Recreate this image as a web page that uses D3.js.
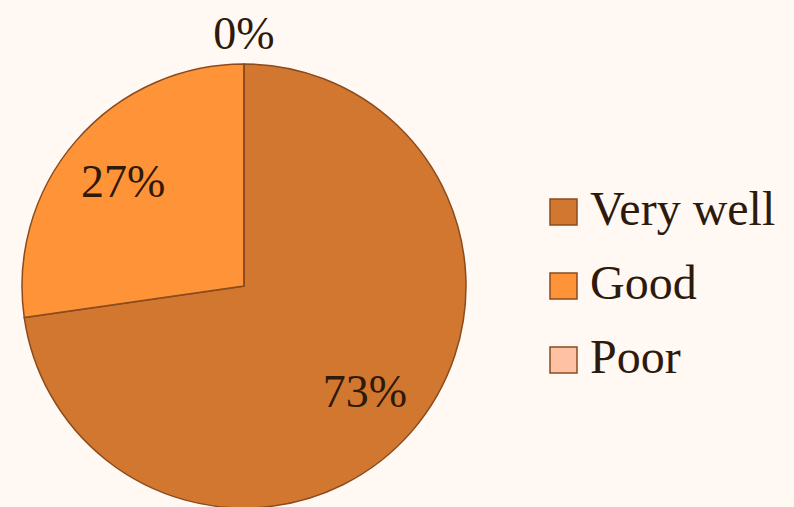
<!DOCTYPE html>
<html>
<head>
<meta charset="utf-8">
<script src="https://cdn.jsdelivr.net/npm/d3@7"></script>
<style>
  html, body { margin: 0; padding: 0; background: #fff8f3; }
  svg { display: block; }
</style>
</head>
<body>
<svg id="chart"></svg>
<script>
// answers to the survey question
const categories = ['Very well', 'Good', 'Poor'];
const counts = [8, 3, 0];
const colors = ['#d27730', '#ff9338', '#ffc1a4'];

const width = 794;
const height = 507;
const cx = 244, cy = 286, radius = 222;

const svg = d3.select('#chart')
  .attr('width', width)
  .attr('height', height)
  .attr('viewBox', `0 0 ${width} ${height}`);

const font = '"Liberation Serif", "DejaVu Serif", serif';
const textColor = '#2e1a0a';
const strokeColor = '#8a4b1e';

const total = d3.sum(counts);
const pie = d3.pie().sort(null).value(d => d)(counts);
const arc = d3.arc().innerRadius(0).outerRadius(radius);

const g = svg.append('g').attr('transform', `translate(${cx}, ${cy})`);

g.selectAll('path')
  .data(pie)
  .join('path')
  .attr('d', arc)
  .attr('fill', (d, i) => colors[i])
  .attr('stroke', strokeColor)
  .attr('stroke-width', 1.5);

// Slice labels; empty slices get pushed outside the rim
const labelArc = d3.arc().innerRadius(radius * 0.72).outerRadius(radius * 0.72);
const outerArc = d3.arc().innerRadius(radius * 1.14).outerRadius(radius * 1.14);

g.selectAll('text.pct')
  .data(pie)
  .join('text')
  .attr('class', 'pct')
  .attr('transform', d => `translate(${(d.value === 0 ? outerArc : labelArc).centroid(d)})`)
  .attr('text-anchor', 'middle')
  .attr('dy', '0.35em')
  .attr('font-family', font)
  .attr('font-size', '46px')
  .attr('fill', textColor)
  .text(d => `${Math.round(d.value / total * 100)}%`);

// Legend
const legend = svg.append('g').attr('transform', 'translate(550, 225)');
const row = legend.selectAll('g')
  .data(categories)
  .join('g')
  .attr('transform', (d, i) => `translate(0, ${i * 74})`);

row.append('rect')
  .attr('x', 0)
  .attr('y', -26)
  .attr('width', 27)
  .attr('height', 26)
  .attr('fill', (d, i) => colors[i])
  .attr('stroke', strokeColor)
  .attr('stroke-width', 1.5);

row.append('text')
  .attr('x', 40)
  .attr('y', 0)
  .attr('font-family', font)
  .attr('font-size', '48px')
  .attr('fill', textColor)
  .text(d => d);
</script>
</body>
</html>
